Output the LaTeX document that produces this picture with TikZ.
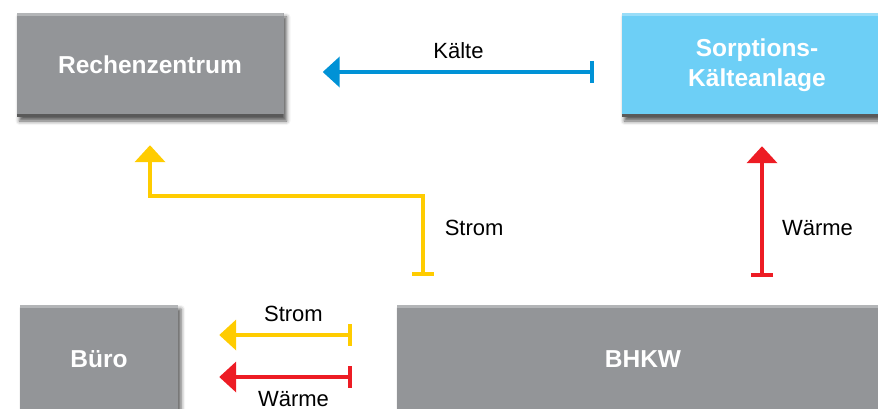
\documentclass[tikz,border=0pt]{standalone}
\usepackage{fontspec}
\setmainfont{Liberation Sans}
\usepackage{xcolor}
\usepackage{tikz}
\usetikzlibrary{arrows.meta, shadows.blur}

\definecolor{boxgray}{RGB}{147,149,152}
\definecolor{boxblue}{RGB}{109,207,246}
\definecolor{kblue}{RGB}{0,146,214}
\definecolor{syellow}{RGB}{255,204,0}
\definecolor{wred}{RGB}{237,28,36}

\begin{document}
\begin{tikzpicture}[x=1pt,y=-1pt,
      flow/.style={line width=4pt,{Bar[width=22pt]}-{Triangle[width=30pt,length=17pt]}},
      main node/.style={fill=boxgray,text=white,inner sep=0pt,align=center,
        minimum height=104pt,font=\bfseries\fontsize{24.5}{30}\selectfont,
        blur shadow={shadow xshift=3pt,shadow yshift=-4pt,shadow blur radius=4pt,shadow opacity=65},
        path picture={
          \fill[black!65] (path picture bounding box.south west) rectangle ([yshift=3pt]path picture bounding box.south east);
          \fill[white,opacity=0.3] (path picture bounding box.north west) rectangle ([yshift=-3pt]path picture bounding box.north east);}},
      other node/.style={font=\fontsize{22}{26}\selectfont,inner sep=0pt}]

    \useasboundingbox (0,0) rectangle (878,409);
    \clip (0,0) rectangle (878,409);

    \node[main node,minimum width=267pt] (rz) at (150,65) {Rechenzentrum};
    \node[main node,minimum width=271pt,fill=boxblue] (ska) at (757,65) {Sorptions-\\K\"alteanlage};
    \node[main node,minimum width=158pt,minimum height=108pt] (buero) at (99,359) {B\"uro};
    \node[main node,minimum width=492pt,minimum height=108pt] (bhkw) at (643,359) {BHKW};

    \draw[flow,kblue] ([xshift=-27pt,yshift=-7pt]ska.west) -- node[other node,above=11pt,text=black] {K\"alte} ([xshift=39pt,yshift=-7pt]rz.east);
    \draw[flow,syellow] ([xshift=26pt,yshift=29pt]bhkw.north west) -- node[other node,pos=0.6,right=20pt,text=black] {Strom} ++(0,-80) -| ([yshift=-28pt]rz.south);
    \draw[flow,wred] ([xshift=5pt,yshift=28pt]bhkw.north -| ska.south) -- node[other node,pos=0.37,right=18pt,text=black] {W\"arme} ([xshift=5pt,yshift=-29pt]ska.south);
    \draw[flow,syellow] ([xshift=-45pt,yshift=24pt]bhkw.west) -- node[other node,pos=0.44,above=11pt,text=black] {Strom} ([xshift=41pt,yshift=24pt]buero.east);
    \draw[flow,wred] ([xshift=-45pt,yshift=-18pt]bhkw.west) -- node[other node,pos=0.44,below=12pt,text=black] {W\"arme} ([xshift=41pt,yshift=-18pt]buero.east);
\end{tikzpicture}
\end{document}
